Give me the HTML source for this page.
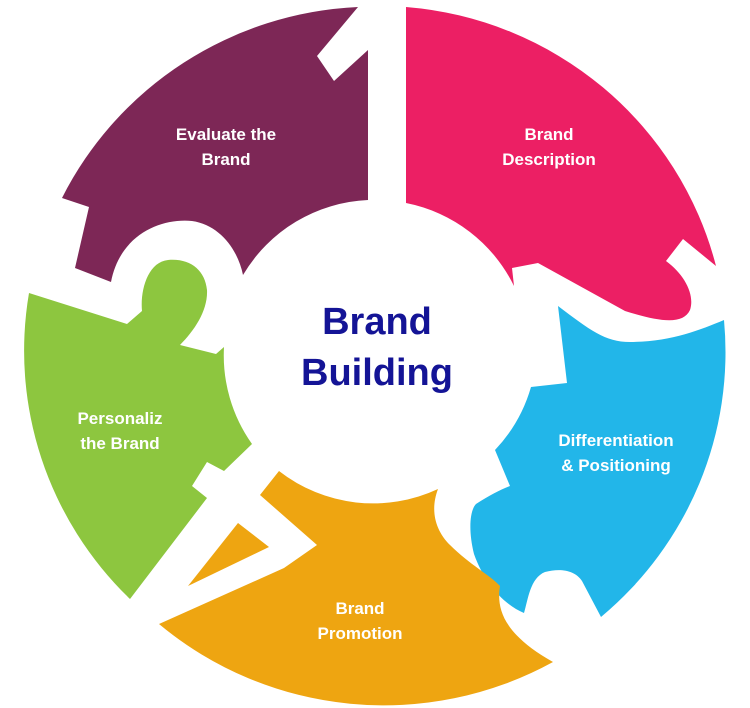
<!DOCTYPE html>
<html><head><style>
html,body{margin:0;padding:0;background:#fff;}
svg{display:block;}
text{font-family:"Liberation Sans",sans-serif;font-weight:bold;}
</style></head><body>
<svg width="750" height="708" viewBox="0 0 750 708">
<!-- Purple -->
<path fill="#7d2756" d="M62,198 A349,346 0 0 1 358,7 L317,56 L334,81 L368,50 L368,200 A153,153 0 0 0 243,275 C238,250 220,225 192,221 C160,218 120,235 111,282 L75,268 L89,207 Z"/>
<!-- Pink -->
<path fill="#ec1f64" d="M406,7 A349,346 0 0 1 716,266 L683,239 L666,261 C685,275 695,295 690,310 C683,325 660,322 625,311 L538,263 L512,268 L514,286 A153,153 0 0 0 406,203 Z"/>
<!-- Blue -->
<path fill="#22b6e9" d="M558,306 C590,330 605,342 630,342 C670,342 700,330 724,320 A349,346 0 0 1 601,617 L582,581 C575,570 560,568 545,572 C530,578 528,600 524,613 C505,605 485,585 474,554 C468,530 470,510 476,504 C490,495 500,490 510,486 L495,450 A153,153 0 0 0 531,387 L567,383 Z"/>
<!-- Orange -->
<path fill="#eea511" d="M279,471 A153,153 0 0 0 438,489 C430,510 435,530 450,545 C470,565 490,575 500,586 C496,610 505,635 553,662 A349,346 0 0 1 159,624 L284,568 L317,545 L260,495 Z"/>
<path fill="#eea511" d="M188,586 L238,523 L269,547 Z"/>
<!-- Green -->
<path fill="#8dc63f" d="M29,293 L127,324 L142,311 C140,290 148,262 168,260 C190,258 205,270 207,290 C208,310 195,330 180,345 L216,354 L224,347 A153,153 0 0 0 252,444 L224,471 L207,462 L192,486 L207,498 L130,599 A349,346 0 0 1 29,293 Z"/>
<!-- Labels -->
<text x="377" y="334" font-size="38" fill="#141496" text-anchor="middle">Brand</text>
<text x="377" y="385" font-size="38" fill="#141496" text-anchor="middle">Building</text>
<g fill="#fff" font-size="17" text-anchor="middle">
<text x="226" y="140">Evaluate the</text>
<text x="226" y="165">Brand</text>
<text x="549" y="140">Brand</text>
<text x="549" y="165">Description</text>
<text x="616" y="446">Differentiation</text>
<text x="616" y="471">&amp; Positioning</text>
<text x="120" y="424">Personaliz</text>
<text x="120" y="449">the Brand</text>
<text x="360" y="614">Brand</text>
<text x="360" y="639">Promotion</text>
</g>
</svg>
</body></html>
